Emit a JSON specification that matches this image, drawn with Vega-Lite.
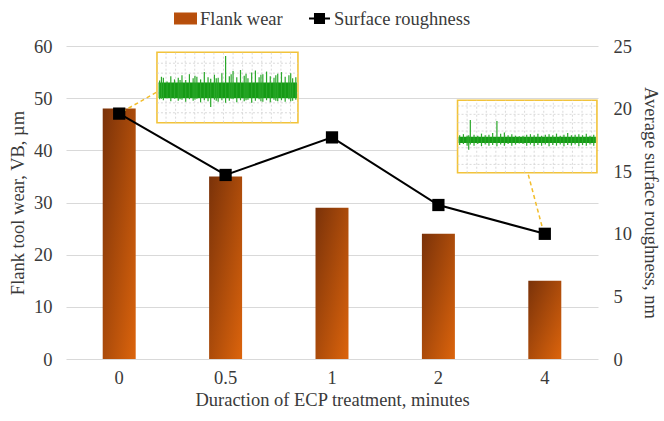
{
  "$schema": "https://vega.github.io/schema/vega-lite/v6.json",
  "width": 532,
  "height": 313,
  "autosize": {"type": "none"},
  "padding": {"left": 66, "top": 46, "right": 66, "bottom": 62},
  "background": "white",
  "config": {
    "view": {"stroke": null},
    "font": "Liberation Serif",
    "axis": {
      "labelFont": "Liberation Serif",
      "labelFontSize": 18.5,
      "labelColor": "#3a3a3a",
      "titleFont": "Liberation Serif",
      "titleFontSize": 18.5,
      "titleFontWeight": "normal",
      "titleColor": "#3a3a3a",
      "domain": false,
      "ticks": false,
      "gridColor": "#d9d9d9",
      "gridWidth": 1
    },
    "legend": {
      "orient": "none", "legendX": 108, "legendY": -39, "direction": "horizontal", "title": null,
      "labelFont": "Liberation Serif", "labelFontSize": 18.5, "labelColor": "#3a3a3a",
      "symbolSize": 441, "labelOffset": 3, "columnPadding": 22, "padding": 0
    }
  },
  "datasets": {
    "main": [
      {"t": "0", "wear": 48, "rough": 19.6},
      {"t": "0.5", "wear": 35, "rough": 14.7},
      {"t": "1", "wear": 29, "rough": 17.7},
      {"t": "2", "wear": 24, "rough": 12.3},
      {"t": "4", "wear": 15, "rough": 10.0}
    ],
    "insets": [
      {"a": 0.855, "b": 2.18, "c": 45.3, "d": 58.8},
      {"a": 3.68, "b": 4.99, "c": 35.7, "d": 49.6}
    ],
    "leaders": [
      {"a": 0.53, "b": 0.855, "c": 47.4, "d": 51.2},
      {"a": 4.49, "b": 4.34, "c": 24.2, "d": 35.7}
    ],
    "igrid": [
      {"a": 0.94, "b": 0.94, "c": 45.3, "d": 58.8},
      {"a": 1.03, "b": 1.03, "c": 45.3, "d": 58.8},
      {"a": 1.12, "b": 1.12, "c": 45.3, "d": 58.8},
      {"a": 1.21, "b": 1.21, "c": 45.3, "d": 58.8},
      {"a": 1.30, "b": 1.30, "c": 45.3, "d": 58.8},
      {"a": 1.39, "b": 1.39, "c": 45.3, "d": 58.8},
      {"a": 1.48, "b": 1.48, "c": 45.3, "d": 58.8},
      {"a": 1.57, "b": 1.57, "c": 45.3, "d": 58.8},
      {"a": 1.66, "b": 1.66, "c": 45.3, "d": 58.8},
      {"a": 1.75, "b": 1.75, "c": 45.3, "d": 58.8},
      {"a": 1.84, "b": 1.84, "c": 45.3, "d": 58.8},
      {"a": 1.93, "b": 1.93, "c": 45.3, "d": 58.8},
      {"a": 2.02, "b": 2.02, "c": 45.3, "d": 58.8},
      {"a": 2.11, "b": 2.11, "c": 45.3, "d": 58.8},
      {"a": 0.855, "b": 2.18, "c": 47.2, "d": 47.2},
      {"a": 0.855, "b": 2.18, "c": 49.1, "d": 49.1},
      {"a": 0.855, "b": 2.18, "c": 51.0, "d": 51.0},
      {"a": 0.855, "b": 2.18, "c": 52.9, "d": 52.9},
      {"a": 0.855, "b": 2.18, "c": 54.8, "d": 54.8},
      {"a": 0.855, "b": 2.18, "c": 56.7, "d": 56.7},
      {"a": 3.77, "b": 3.77, "c": 35.7, "d": 49.6},
      {"a": 3.86, "b": 3.86, "c": 35.7, "d": 49.6},
      {"a": 3.95, "b": 3.95, "c": 35.7, "d": 49.6},
      {"a": 4.04, "b": 4.04, "c": 35.7, "d": 49.6},
      {"a": 4.13, "b": 4.13, "c": 35.7, "d": 49.6},
      {"a": 4.22, "b": 4.22, "c": 35.7, "d": 49.6},
      {"a": 4.31, "b": 4.31, "c": 35.7, "d": 49.6},
      {"a": 4.40, "b": 4.40, "c": 35.7, "d": 49.6},
      {"a": 4.49, "b": 4.49, "c": 35.7, "d": 49.6},
      {"a": 4.58, "b": 4.58, "c": 35.7, "d": 49.6},
      {"a": 4.67, "b": 4.67, "c": 35.7, "d": 49.6},
      {"a": 4.76, "b": 4.76, "c": 35.7, "d": 49.6},
      {"a": 4.85, "b": 4.85, "c": 35.7, "d": 49.6},
      {"a": 4.94, "b": 4.94, "c": 35.7, "d": 49.6},
      {"a": 3.68, "b": 4.99, "c": 37.3, "d": 37.3},
      {"a": 3.68, "b": 4.99, "c": 38.9, "d": 38.9},
      {"a": 3.68, "b": 4.99, "c": 40.5, "d": 40.5},
      {"a": 3.68, "b": 4.99, "c": 42.1, "d": 42.1},
      {"a": 3.68, "b": 4.99, "c": 43.7, "d": 43.7},
      {"a": 3.68, "b": 4.99, "c": 45.3, "d": 45.3},
      {"a": 3.68, "b": 4.99, "c": 46.9, "d": 46.9},
      {"a": 3.68, "b": 4.99, "c": 48.5, "d": 48.5}
    ],
    "core": [
      {"a": 0.87, "b": 2.17, "c": 50.0, "d": 53.0},
      {"a": 3.69, "b": 4.98, "c": 41.4, "d": 42.6}
    ],
    "sig": [
      {"x": 0.88, "lo": 49.8, "hi": 53.4},
      {"x": 0.897, "lo": 49.9, "hi": 54.1},
      {"x": 0.915, "lo": 49.6, "hi": 53.9},
      {"x": 0.95, "lo": 50.0, "hi": 53.2},
      {"x": 0.985, "lo": 49.4, "hi": 54.2},
      {"x": 1.02, "lo": 49.9, "hi": 53.6},
      {"x": 1.055, "lo": 49.5, "hi": 53.9},
      {"x": 1.072, "lo": 49.8, "hi": 53.5},
      {"x": 1.09, "lo": 49.7, "hi": 54.4},
      {"x": 1.125, "lo": 49.3, "hi": 53.5},
      {"x": 1.16, "lo": 49.8, "hi": 54.6},
      {"x": 1.195, "lo": 49.5, "hi": 53.8},
      {"x": 1.212, "lo": 49.7, "hi": 54.3},
      {"x": 1.23, "lo": 49.9, "hi": 54.1},
      {"x": 1.265, "lo": 49.2, "hi": 53.6},
      {"x": 1.30, "lo": 49.6, "hi": 55.0},
      {"x": 1.335, "lo": 49.4, "hi": 54.0},
      {"x": 1.36, "lo": 48.3, "hi": 53.7},
      {"x": 1.395, "lo": 49.7, "hi": 54.5},
      {"x": 1.412, "lo": 49.5, "hi": 53.8},
      {"x": 1.43, "lo": 49.3, "hi": 53.9},
      {"x": 1.465, "lo": 49.6, "hi": 54.8},
      {"x": 1.50, "lo": 49.1, "hi": 58.1},
      {"x": 1.535, "lo": 49.5, "hi": 54.2},
      {"x": 1.552, "lo": 49.9, "hi": 54.6},
      {"x": 1.57, "lo": 49.8, "hi": 55.2},
      {"x": 1.605, "lo": 49.2, "hi": 54.0},
      {"x": 1.64, "lo": 49.6, "hi": 55.4},
      {"x": 1.675, "lo": 49.4, "hi": 54.3},
      {"x": 1.692, "lo": 49.6, "hi": 54.7},
      {"x": 1.71, "lo": 49.7, "hi": 53.8},
      {"x": 1.745, "lo": 49.1, "hi": 54.9},
      {"x": 1.78, "lo": 49.5, "hi": 55.3},
      {"x": 1.815, "lo": 49.8, "hi": 54.0},
      {"x": 1.832, "lo": 49.4, "hi": 54.5},
      {"x": 1.85, "lo": 49.3, "hi": 54.6},
      {"x": 1.885, "lo": 49.6, "hi": 55.1},
      {"x": 1.92, "lo": 49.2, "hi": 54.2},
      {"x": 1.955, "lo": 49.7, "hi": 53.9},
      {"x": 1.972, "lo": 49.5, "hi": 54.4},
      {"x": 1.99, "lo": 49.4, "hi": 54.7},
      {"x": 2.025, "lo": 49.6, "hi": 55.0},
      {"x": 2.06, "lo": 49.3, "hi": 54.1},
      {"x": 2.095, "lo": 49.8, "hi": 54.4},
      {"x": 2.112, "lo": 49.4, "hi": 54.8},
      {"x": 2.13, "lo": 49.5, "hi": 53.8},
      {"x": 2.16, "lo": 49.7, "hi": 54.0},
      {"x": 3.70, "lo": 41.0, "hi": 42.9},
      {"x": 3.735, "lo": 41.2, "hi": 43.1},
      {"x": 3.77, "lo": 40.9, "hi": 42.8},
      {"x": 3.785, "lo": 40.1, "hi": 42.9},
      {"x": 3.80, "lo": 41.1, "hi": 45.8},
      {"x": 3.835, "lo": 40.9, "hi": 43.0},
      {"x": 3.87, "lo": 41.2, "hi": 42.8},
      {"x": 3.905, "lo": 40.8, "hi": 43.2},
      {"x": 3.94, "lo": 41.1, "hi": 42.9},
      {"x": 3.975, "lo": 40.9, "hi": 43.0},
      {"x": 4.01, "lo": 41.0, "hi": 43.3},
      {"x": 4.05, "lo": 40.8, "hi": 45.6},
      {"x": 4.085, "lo": 41.1, "hi": 43.2},
      {"x": 4.12, "lo": 40.9, "hi": 43.4},
      {"x": 4.155, "lo": 41.2, "hi": 42.9},
      {"x": 4.19, "lo": 40.9, "hi": 43.1},
      {"x": 4.225, "lo": 41.1, "hi": 42.8},
      {"x": 4.26, "lo": 41.3, "hi": 42.7},
      {"x": 4.295, "lo": 41.2, "hi": 42.8},
      {"x": 4.33, "lo": 40.9, "hi": 43.0},
      {"x": 4.365, "lo": 41.1, "hi": 43.1},
      {"x": 4.40, "lo": 40.8, "hi": 42.9},
      {"x": 4.435, "lo": 41.0, "hi": 43.2},
      {"x": 4.47, "lo": 40.9, "hi": 42.8},
      {"x": 4.505, "lo": 41.1, "hi": 43.0},
      {"x": 4.54, "lo": 40.8, "hi": 43.1},
      {"x": 4.575, "lo": 41.0, "hi": 42.9},
      {"x": 4.61, "lo": 40.9, "hi": 43.2},
      {"x": 4.645, "lo": 41.1, "hi": 42.8},
      {"x": 4.68, "lo": 40.8, "hi": 43.0},
      {"x": 4.715, "lo": 41.0, "hi": 43.3},
      {"x": 4.75, "lo": 40.9, "hi": 42.9},
      {"x": 4.785, "lo": 41.1, "hi": 43.0},
      {"x": 4.82, "lo": 40.8, "hi": 43.1},
      {"x": 4.855, "lo": 41.0, "hi": 42.9},
      {"x": 4.89, "lo": 40.9, "hi": 43.2},
      {"x": 4.925, "lo": 41.1, "hi": 42.8},
      {"x": 4.96, "lo": 40.9, "hi": 43.0}
    ]
  },
  "layer": [
    {
      "data": {"name": "main"},
      "mark": {
        "type": "bar",
        "fill": {
          "gradient": "linear", "x1": 0, "y1": 0, "x2": 1, "y2": 1,
          "stops": [{"offset": 0, "color": "#7a3209"}, {"offset": 1, "color": "#dc640c"}]
        },
        "strokeWidth": 0,
        "strokeOpacity": 0
      },
      "encoding": {
        "x": {
          "field": "t", "type": "nominal", "sort": ["0", "0.5", "1", "2", "4"],
          "scale": {"paddingInner": 0.69, "paddingOuter": 0.345},
          "axis": {"title": "Duraction of ECP treatment, minutes", "labelAngle": 0, "grid": false, "labelPadding": 9, "titlePadding": 4}
        },
        "y": {
          "field": "wear", "type": "quantitative",
          "scale": {"domain": [0, 60], "nice": false},
          "axis": {"orient": "left", "title": "Flank tool wear, VB, µm", "values": [0, 10, 20, 30, 40, 50, 60], "grid": true, "labelPadding": 14, "titlePadding": 6}
        },
        "stroke": {
          "datum": "Flank wear",
          "scale": {"domain": ["Flank wear", "Surface roughness"], "range": ["#b9500c", "black"]},
          "legend": {
            "encode": {
              "symbols": {
                "update": {
                  "shape": {"signal": "datum.value === 'Flank wear' ? 'M-1,-0.48H1V0.48H-1Z' : 'M-1,0H1M-0.43,-0.43H0.43V0.43H-0.43Z'"},
                  "fill": {"signal": "datum.value === 'Flank wear' ? '#b64e0c' : 'black'"},
                  "stroke": {"signal": "datum.value === 'Flank wear' ? 'transparent' : 'black'"},
                  "strokeWidth": {"value": 2},
                  "opacity": {"value": 1},
                  "fillOpacity": {"value": 1},
                  "strokeOpacity": {"value": 1}
                }
              }
            }
          }
        }
      }
    },
    {
      "data": {"name": "leaders"},
      "mark": {"type": "rule", "color": "#f2bd2c", "strokeWidth": 1.5, "strokeDash": [4, 3]},
      "encoding": {
        "x": {"field": "a", "type": "quantitative", "scale": {"domain": [0, 5], "nice": false, "zero": false}, "axis": null},
        "x2": {"field": "b"},
        "y": {"field": "c", "type": "quantitative", "scale": {"domain": [0, 60], "nice": false}, "axis": null},
        "y2": {"field": "d"}
      }
    },
    {
      "data": {"name": "insets"},
      "mark": {"type": "rect", "fill": "white", "stroke": "#f2c33a", "strokeWidth": 1.6},
      "encoding": {
        "x": {"field": "a", "type": "quantitative", "scale": {"domain": [0, 5], "nice": false, "zero": false}, "axis": null},
        "x2": {"field": "b"},
        "y": {"field": "c", "type": "quantitative", "scale": {"domain": [0, 60], "nice": false}, "axis": null},
        "y2": {"field": "d"}
      }
    },
    {
      "data": {"name": "igrid"},
      "mark": {"type": "rule", "color": "#d0d0d0", "strokeWidth": 0.8, "strokeDash": [2, 2]},
      "encoding": {
        "x": {"field": "a", "type": "quantitative", "scale": {"domain": [0, 5], "nice": false, "zero": false}, "axis": null},
        "x2": {"field": "b"},
        "y": {"field": "c", "type": "quantitative", "scale": {"domain": [0, 60], "nice": false}, "axis": null},
        "y2": {"field": "d"}
      }
    },
    {
      "data": {"name": "core"},
      "mark": {"type": "rect", "fill": "#159a15"},
      "encoding": {
        "x": {"field": "a", "type": "quantitative", "scale": {"domain": [0, 5], "nice": false, "zero": false}, "axis": null},
        "x2": {"field": "b"},
        "y": {"field": "c", "type": "quantitative", "scale": {"domain": [0, 60], "nice": false}, "axis": null},
        "y2": {"field": "d"}
      }
    },
    {
      "data": {"name": "sig"},
      "mark": {"type": "rule", "color": "#2aa82a", "strokeWidth": 1.2},
      "encoding": {
        "x": {"field": "x", "type": "quantitative", "scale": {"domain": [0, 5], "nice": false, "zero": false}, "axis": null},
        "y": {"field": "lo", "type": "quantitative", "scale": {"domain": [0, 60], "nice": false}, "axis": null},
        "y2": {"field": "hi"}
      }
    },
    {
      "data": {"name": "main"},
      "mark": {"type": "line", "strokeWidth": 2},
      "encoding": {
        "x": {"field": "t", "type": "nominal", "sort": ["0", "0.5", "1", "2", "4"], "axis": null},
        "y": {
          "field": "rough", "type": "quantitative",
          "scale": {"domain": [0, 25], "nice": false},
          "axis": {"orient": "right", "title": "Average surface roughness, nm", "values": [0, 5, 10, 15, 20, 25], "grid": false, "labelPadding": 15, "titlePadding": 9}
        },
        "stroke": {
          "datum": "Surface roughness",
          "legend": {
            "encode": {
              "symbols": {
                "update": {
                  "shape": {"signal": "datum.value === 'Flank wear' ? 'M-1,-0.48H1V0.48H-1Z' : 'M-1,0H1M-0.43,-0.43H0.43V0.43H-0.43Z'"},
                  "fill": {"signal": "datum.value === 'Flank wear' ? '#b64e0c' : 'black'"},
                  "stroke": {"signal": "datum.value === 'Flank wear' ? 'transparent' : 'black'"},
                  "strokeWidth": {"value": 2},
                  "opacity": {"value": 1},
                  "fillOpacity": {"value": 1},
                  "strokeOpacity": {"value": 1}
                }
              }
            }
          }
        }
      }
    },
    {
      "data": {"name": "main"},
      "mark": {"type": "square", "filled": true, "color": "black", "size": 150, "opacity": 1},
      "encoding": {
        "x": {"field": "t", "type": "nominal", "sort": ["0", "0.5", "1", "2", "4"], "axis": null},
        "y": {"field": "rough", "type": "quantitative", "scale": {"domain": [0, 25], "nice": false}, "axis": null}
      }
    }
  ],
  "resolve": {"scale": {"x": "independent", "y": "independent"}}
}
